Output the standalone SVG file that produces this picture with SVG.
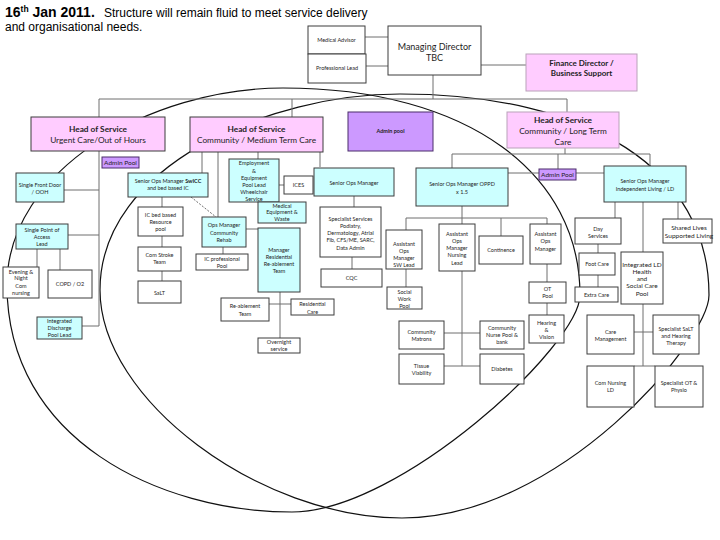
<svg xmlns="http://www.w3.org/2000/svg" width="720" height="540" viewBox="0 0 720 540">
<style>
.b{fill:#fff;stroke:#3c3c3c;stroke-width:1}
.c{fill:#ccffff;stroke:#3c3c3c;stroke-width:1}
.p{fill:#ffccff;stroke:#3c3c3c;stroke-width:1}
.pl{fill:#ffccff;stroke:#b9a2b9;stroke-width:1}
.a{fill:#cc99ff;stroke:#4a2d6a;stroke-width:1}
.ln{fill:none;stroke:#6e6e6e;stroke-width:1}
.el{fill:none;stroke:#111;stroke-width:1.2}
text{font-family:Lato,"Liberation Sans",sans-serif;fill:#1e1e1e;text-anchor:middle}
.t{font-size:5.5px}
.m{font-size:6.5px}
.md{font-size:9px}
.h{font-size:8.3px}
.hb{font-size:8.3px;font-weight:bold}
.fd{font-size:8px;font-weight:bold}
.ttl{font-family:"Liberation Sans",Arial,sans-serif;text-anchor:start;fill:#000}
</style>
<rect x="0" y="0" width="720" height="540" fill="#fff"/>
<g id="title">
<text class="ttl" y="17"><tspan x="5" font-weight="bold" font-size="14">16</tspan><tspan font-weight="bold" font-size="8.5" dy="-5">th</tspan><tspan font-weight="bold" font-size="14" dy="5"> Jan 2011.</tspan><tspan x="104" font-size="12">Structure will remain fluid to meet service delivery</tspan></text>
<text class="ttl" x="5" y="31" font-size="12">and organisational needs.</text>
</g>
<g id="ellipses">
<path class="el" d="M283,88 C470,88 580,175 580,295 C580,345 400,512 292,512 C160,512 7,440 7,285 C7,170 150,88 283,88 Z"/>
<path class="el" d="M400,94 C590,94 709,170 709,295 C709,340 560,518 402,518 C260,518 100,400 100,290 C100,165 270,94 400,94 Z"/>
</g>
<g id="connectors">
<path class="ln" d="M365,37 H388 M366,66 H388 M481,65 H526 M433,75 V99 M99,99 H567 V112 M292,99 V117"/>
<path class="ln" d="M99,99 V326 M64,190 H99 M68,235 H99 M82,326 H99 M37,249 V267 M60,249 V270"/>
<path class="ln" d="M202,152 V173 M218,152 V217 M258,152 V159 M320,152 V167"/>
<path class="ln" d="M162,197 V207 M162,236 V247 M162,271 V281 M223,247 V254 M246,229 H258 M279,185 H284 M280,292 V338 M269,304 H291"/>
<path class="ln" d="M191,197 L216,217" stroke-dasharray="2,1.5"/>
<path class="ln" d="M354,196 V207 M352,257 V269"/>
<path class="ln" d="M565,148 V154 M452,154 H650 V166 M452,154 V168 M558,154 V169 M508,173 H604"/>
<path class="ln" d="M462,206 V224 M406,218 H547 M406,218 V230 M501,218 V236 M547,218 V224 M406,269 V287 M462,271 V366 M444,333 H480 M444,366 H480 M547,264 V282 M547,303 V315"/>
<path class="ln" d="M615,202 V218 M643,202 V252 M678,202 V219 M598,244 V253 M598,275 V287 M643,304 V366 M634,332 H653 M634,366 H655"/>
</g>
<g id="medical-advisor"><rect class="b" x="308" y="26" width="57" height="28"/><text class="t" x="336.5" y="41.5">Medical Advisor</text></g>
<g id="professional-lead"><rect class="b" x="308" y="54" width="58" height="29" stroke-width="1.3"/><text class="t" x="337" y="70">Professional Lead</text></g>
<g id="managing-director"><rect class="b" x="388" y="26" width="93" height="49"/><text class="md" x="434.5" y="49.5">Managing Director</text><text class="md" x="434.5" y="61">TBC</text></g>
<g id="finance-director"><rect class="pl" x="526" y="54" width="111" height="37"/><text class="fd" x="581.5" y="66">Finance Director /</text><text class="fd" x="581.5" y="76">Business Support</text></g>
<g id="hos-urgent"><rect class="p" x="31" y="117" width="134" height="34"/><text class="hb" x="98" y="132">Head of Service</text><text class="h" x="98" y="143">Urgent Care/Out of Hours</text></g>
<g id="admin-pool-left"><rect class="a" x="102" y="157" width="37" height="11"/><text class="m" x="120.5" y="164.8">Admin Pool</text></g>
<g id="single-front-door"><rect class="c" x="16" y="173" width="48" height="29"/><text class="t" x="40" y="187">Single Front Door</text><text class="t" x="40" y="193.5">/ OOH</text></g>
<g id="single-point-access"><rect class="c" x="16" y="224" width="52" height="25"/><text class="t" x="42" y="232">Single Point of</text><text class="t" x="42" y="238.5">Access</text><text class="t" x="42" y="245.5">Lead</text></g>
<g id="evening-night"><rect class="b" x="3" y="267" width="36" height="31"/><text class="t" x="21" y="273.5">Evening &amp;</text><text class="t" x="21" y="280">Night</text><text class="t" x="21" y="287.5">Com</text><text class="t" x="21" y="295">nursing</text></g>
<g id="copd"><rect class="b" x="48" y="270" width="44" height="28"/><text class="t" x="70" y="286">COPD / O2</text></g>
<g id="integrated-discharge"><rect class="c" x="37" y="317" width="45" height="22"/><text class="t" x="59.5" y="322.5">Integrated</text><text class="t" x="59.5" y="329.5">Discharge</text><text class="t" x="59.5" y="336.5">Pool Lead</text></g>
<g id="hos-cmtc"><rect class="p" x="190" y="117" width="133" height="35"/><text class="hb" x="256.5" y="131.5">Head of Service</text><text class="h" x="256.5" y="143">Community / Medium Term Care</text></g>
<g id="admin-pool-center"><rect class="a" x="348" y="112" width="85" height="39"/><text class="t" x="390.5" y="133" font-weight="bold">Admin pool</text></g>
<g id="hos-cltc"><rect class="pl" x="507" y="112" width="112" height="36"/><text class="hb" x="563" y="122.5">Head of Service</text><text class="h" x="563" y="133.5">Community / Long Term</text><text class="h" x="563" y="144.5">Care</text></g>
<g id="som-swicc"><rect class="c" x="128" y="173" width="80" height="24"/><text class="t" x="168" y="183">Senior Ops Manager <tspan font-weight="bold">SwICC</tspan></text><text class="t" x="168" y="190">and bed based IC</text></g>
<g id="employment"><rect class="c" x="229" y="159" width="50" height="43"/><text class="t" x="254" y="165">Employment</text><text class="t" x="254" y="173">&amp;</text><text class="t" x="254" y="179.5">Equipment</text><text class="t" x="254" y="186.5">Pool Lead</text><text class="t" x="254" y="194">Wheelchair</text><text class="t" x="254" y="201">Service</text></g>
<g id="ices"><rect class="b" x="284" y="176" width="29" height="18"/><text class="t" x="298.5" y="187">ICES</text></g>
<g id="medical-equipment"><rect class="c" x="258" y="202" width="48" height="21"/><text class="t" x="282" y="207.5">Medical</text><text class="t" x="282" y="214">Equipment &amp;</text><text class="t" x="282" y="221">Waste</text></g>
<g id="som-middle"><rect class="c" x="314" y="168" width="80" height="28"/><text class="t" x="354" y="185">Senior Ops Manager</text></g>
<g id="specialist-services"><rect class="b" x="320" y="207" width="61" height="50"/><text class="t" x="350.5" y="220.5">Specialist Services</text><text class="t" x="350.5" y="228">Podiatry,</text><text class="t" x="350.5" y="235">Dermatology, Atrial</text><text class="t" x="350.5" y="242">Fib, CFS/ME, SARC,</text><text class="t" x="350.5" y="249.5">Data Admin</text></g>
<g id="cqc"><rect class="b" x="321" y="269" width="61" height="18"/><text class="t" x="351.5" y="280">CQC</text></g>
<g id="som-oppd"><rect class="c" x="416" y="168" width="92" height="38"/><text class="t" x="462" y="186">Senior Ops Manager OPPD</text><text class="t" x="462" y="193.5">x 1.5</text></g>
<g id="aom-sw"><rect class="b" x="386" y="230" width="36" height="39"/><text class="t" x="404" y="245.5">Assistant</text><text class="t" x="404" y="252.5">Ops</text><text class="t" x="404" y="259.5">Manager</text><text class="t" x="404" y="267">SW Lead</text></g>
<g id="aom-nursing"><rect class="b" x="439" y="224" width="36" height="47"/><text class="t" x="457" y="235.5">Assistant</text><text class="t" x="457" y="243">Ops</text><text class="t" x="457" y="250">Manager</text><text class="t" x="457" y="257">Nursing</text><text class="t" x="457" y="264.5">Lead</text></g>
<g id="continence"><rect class="b" x="479" y="236" width="44" height="28"/><text class="t" x="501" y="252">Continence</text></g>
<g id="aom-right"><rect class="b" x="530" y="224" width="31" height="40"/><text class="t" x="545.5" y="236">Assistant</text><text class="t" x="545.5" y="243">Ops</text><text class="t" x="545.5" y="250.5">Manager</text></g>
<g id="social-work-pool"><rect class="b" x="387" y="287" width="35" height="22"/><text class="t" x="404.5" y="293.5">Social</text><text class="t" x="404.5" y="301">Work</text><text class="t" x="404.5" y="307.5">Pool</text></g>
<g id="ot-pool"><rect class="b" x="529" y="282" width="37" height="21"/><text class="t" x="547.5" y="291">OT</text><text class="t" x="547.5" y="297.5">Pool</text></g>
<g id="hearing-vision"><rect class="b" x="529" y="315" width="35" height="28"/><text class="t" x="546.5" y="324.5">Hearing</text><text class="t" x="546.5" y="332">&amp;</text><text class="t" x="546.5" y="338.5">Vision</text></g>
<g id="community-matrons"><rect class="b" x="399" y="321" width="45" height="28"/><text class="t" x="421.5" y="333.5">Community</text><text class="t" x="421.5" y="341">Matrons</text></g>
<g id="community-nurse-pool"><rect class="b" x="480" y="321" width="44" height="28"/><text class="t" x="502" y="330">Community</text><text class="t" x="502" y="337">Nurse Pool &amp;</text><text class="t" x="502" y="344">bank</text></g>
<g id="tissue-viability"><rect class="b" x="399" y="354" width="45" height="30"/><text class="t" x="421.5" y="368">Tissue</text><text class="t" x="421.5" y="375">Viability</text></g>
<g id="diabetes"><rect class="b" x="480" y="354" width="44" height="30"/><text class="t" x="502" y="371">Diabetes</text></g>
<g id="admin-pool-right"><rect class="a" x="539" y="169" width="37" height="11"/><text class="m" x="557.5" y="176.8">Admin Pool</text></g>
<g id="som-il"><rect class="c" x="604" y="166" width="82" height="36"/><text class="t" x="645" y="183">Senior Ops Manager</text><text class="t" x="645" y="190.5">Independent Living / LD</text></g>
<g id="day-services"><rect class="b" x="575" y="218" width="46" height="26"/><text class="t" x="598" y="230.5">Day</text><text class="t" x="598" y="237.5">Services</text></g>
<g id="shared-lives"><rect class="b" x="663" y="219" width="49" height="24"/><text class="m" x="689" y="230">Shared Lives</text><text class="m" x="689" y="237.5">Supported Living</text></g>
<g id="foot-care"><rect class="b" x="579" y="253" width="36" height="22"/><text class="t" x="597" y="266">Foot Care</text></g>
<g id="extra-care"><rect class="b" x="575" y="287" width="43" height="15"/><text class="t" x="596.5" y="297">Extra Care</text></g>
<g id="integrated-ld"><rect class="b" x="621" y="252" width="42" height="52"/><text class="m" x="642" y="266.5">Integrated LD</text><text class="m" x="642" y="274">Health</text><text class="m" x="642" y="281">and</text><text class="m" x="642" y="288">Social Care</text><text class="m" x="642" y="295.5">Pool</text></g>
<g id="care-management"><rect class="b" x="587" y="315" width="47" height="39"/><text class="t" x="610.5" y="333.5">Care</text><text class="t" x="610.5" y="341">Management</text></g>
<g id="specialist-salt"><rect class="b" x="653" y="315" width="46" height="39"/><text class="t" x="676" y="330.5">Specialist SaLT</text><text class="t" x="676" y="337.5">and Hearing</text><text class="t" x="676" y="345">Therapy</text></g>
<g id="com-nursing-ld"><rect class="b" x="587" y="366" width="47" height="41"/><text class="t" x="610.5" y="384.5">Com Nursing</text><text class="t" x="610.5" y="392">LD</text></g>
<g id="specialist-ot"><rect class="b" x="655" y="366" width="48" height="41"/><text class="t" x="679" y="384.5">Specialist OT &amp;</text><text class="t" x="679" y="392">Physio</text></g>
<g id="ic-bed"><rect class="b" x="138" y="207" width="45" height="29"/><text class="t" x="160.5" y="217">IC  bed based</text><text class="t" x="160.5" y="224">Resource</text><text class="t" x="160.5" y="231">pool</text></g>
<g id="com-stroke"><rect class="b" x="138" y="247" width="43" height="24"/><text class="t" x="159.5" y="257">Com Stroke</text><text class="t" x="159.5" y="264">Team</text></g>
<g id="salt"><rect class="b" x="138" y="281" width="43" height="22"/><text class="t" x="159.5" y="294.5">SaLT</text></g>
<g id="ops-manager-rehab"><rect class="c" x="202" y="217" width="44" height="30"/><text class="t" x="224" y="227">Ops Manager</text><text class="t" x="224" y="234.5">Community</text><text class="t" x="224" y="241.5">Rehab</text></g>
<g id="ic-professional"><rect class="b" x="196" y="254" width="52" height="16"/><text class="t" x="222" y="260.5">IC professional</text><text class="t" x="222" y="267.5">Pool</text></g>
<g id="manager-residential"><rect class="c" x="258" y="228" width="42" height="64"/><text class="t" x="279" y="251.5">Manager</text><text class="t" x="279" y="259">Residential</text><text class="t" x="279" y="266">Re-ablement</text><text class="t" x="279" y="273">Team</text></g>
<g id="reablement-team"><rect class="b" x="221" y="298" width="48" height="23"/><text class="t" x="245" y="308">Re-ablement</text><text class="t" x="245" y="315.5">Team</text></g>
<g id="residential-care"><rect class="b" x="291" y="299" width="43" height="16"/><text class="t" x="312.5" y="306">Residential</text><text class="t" x="312.5" y="313.5">Care</text></g>
<g id="overnight-service"><rect class="b" x="258" y="338" width="42" height="15"/><text class="t" x="279" y="343.8">Overnight</text><text class="t" x="279" y="351">service</text></g>
</svg>
